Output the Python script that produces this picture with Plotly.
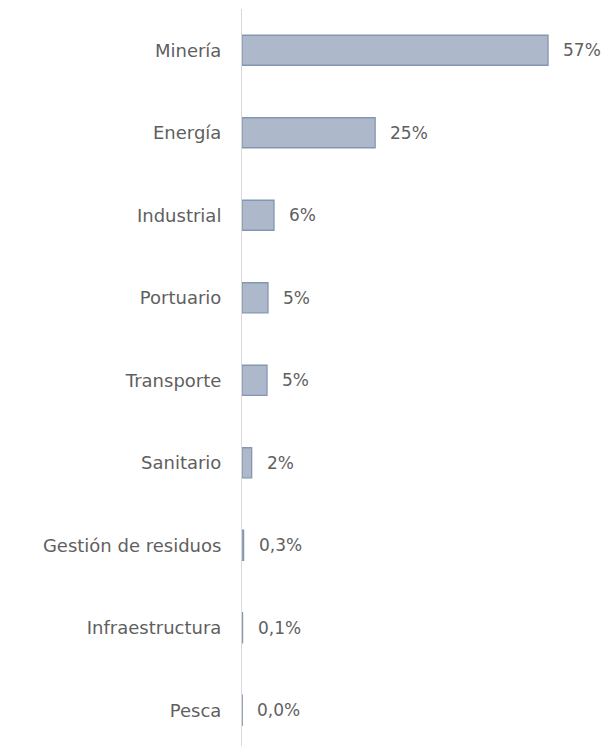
import plotly.graph_objects as go

categories = ["Minería", "Energía", "Industrial", "Portuario", "Transporte",
              "Sanitario", "Gestión de residuos", "Infraestructura", "Pesca"]
values = [57.0, 24.8, 5.96, 4.84, 4.66, 1.8, 0.3, 0.1, 0.04]
value_labels = ["57%", "25%", "6%", "5%", "5%", "2%", "0,3%", "0,1%", "0,0%"]

font_family = "'DejaVu Sans', sans-serif"
text_color = "#5f5f5f"

fig = go.Figure()
fig.add_trace(go.Bar(
    x=values, y=categories, orientation="h",
    width=0.364,
    marker=dict(color="#adb9ca", line=dict(color="#8497b0", width=1.3)),
    hoverinfo="skip",
))

for cat, v, lab in zip(categories, values, value_labels):
    fig.add_annotation(x=v, y=cat, text=lab, showarrow=False,
                       xanchor="left", yanchor="middle", xshift=13,
                       font=dict(family=font_family, size=17, color=text_color))

fig.update_layout(
    width=613, height=746,
    margin=dict(l=242, r=0, t=9, b=0),
    paper_bgcolor="white", plot_bgcolor="white",
    showlegend=False,
    xaxis=dict(range=[0, 69.1], visible=False, fixedrange=True),
    yaxis=dict(
        categoryorder="array", categoryarray=categories,
        range=[8.433, -0.5],
        showline=True, linecolor="#d9d9d9", linewidth=1,
        showgrid=False, zeroline=False, ticks="",
        ticklabelstandoff=16,
        tickfont=dict(family=font_family, size=18, color=text_color),
    ),
)

fig.write_html("out.html")
